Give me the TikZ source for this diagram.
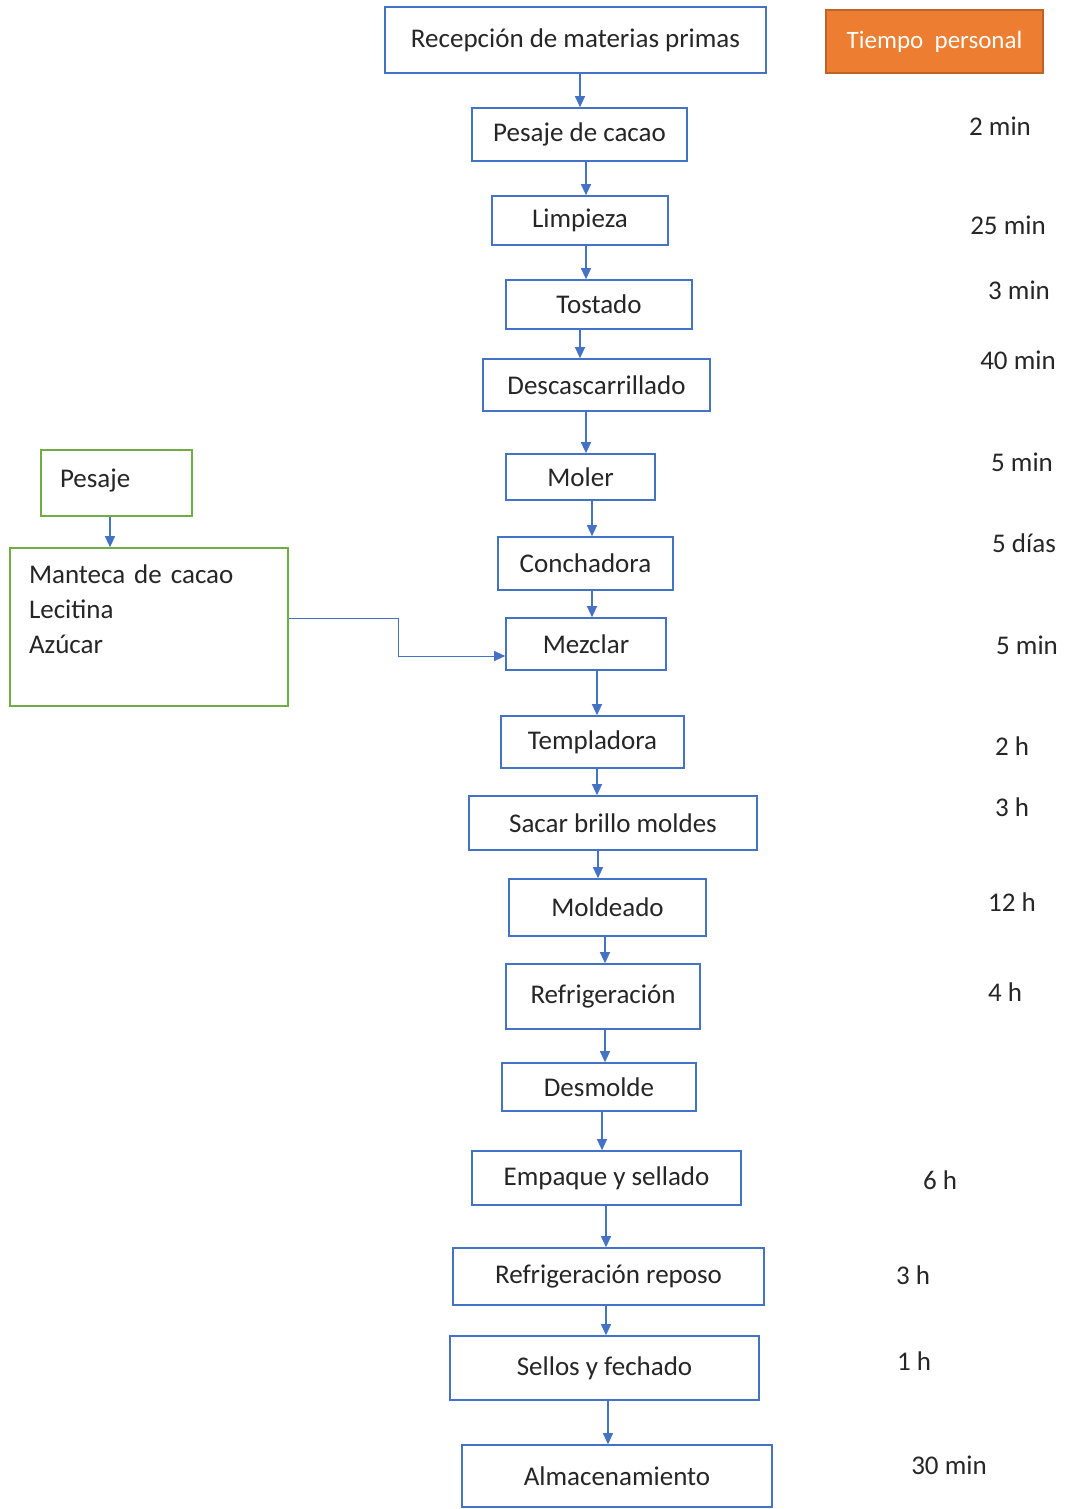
\documentclass[tikz,border=0pt]{standalone}
\usepackage{fontspec}
\setmainfont{Carlito}
\usetikzlibrary{positioning}
\usetikzlibrary{arrows.meta}
\definecolor{flowblue}{RGB}{68,114,196}
\definecolor{flowgreen}{RGB}{112,173,71}
\definecolor{floworange}{RGB}{237,125,49}
\tikzset{stepbox/.style={draw=flowblue,line width=1.6pt,fill=white,inner sep=0pt,font=\fontsize{27}{35}\selectfont,text=black!85},
	sidebox/.style={stepbox,draw=flowgreen},
	timelabel/.style={font=\fontsize{27}{35}\selectfont,text=black!85,inner sep=0pt},
	flow arrow/.style={draw=flowblue,line width=1.1pt,-{Triangle[length=11pt,width=10pt]}},}
\begin{document}
\begin{tikzpicture}[x=1pt,y=-1pt]
		\useasboundingbox (0,0) rectangle (1065,1509);
		% main line
		\node[stepbox, minimum width=381, minimum height=66] (recep) at (575.5,40) {Recepción de materias primas};
		\node[stepbox, minimum width=215, minimum height=53] (pesajec) at (579.5,134.5) {Pesaje de cacao};
		\node[stepbox, minimum width=176, minimum height=49] (limp) at (580,220.5) {Limpieza};
		\node[stepbox, minimum width=186, minimum height=49] (tost) at (599,304.5) {Tostado};
		\node[stepbox, minimum width=227, minimum height=52] (desc) at (596.5,385) {Descascarrillado};
		\node[stepbox, minimum width=149, minimum height=46] (moler) at (580.5,477) {Moler};
		\node[stepbox, minimum width=175, minimum height=53] (conch) at (585.5,563.5) {Conchadora};
		\node[stepbox, minimum width=160, minimum height=52] (mezc) at (586,644) {Mezclar};
		\node[stepbox, minimum width=183, minimum height=52] (templ) at (592.5,742) {Templadora};
		\node[stepbox, minimum width=288, minimum height=54] (brillo) at (613,823) {Sacar brillo moldes};
		\node[stepbox, minimum width=197, minimum height=57] (mold) at (607.5,907.5) {Moldeado};
		\node[stepbox, minimum width=194, minimum height=65] (refri) at (603,996.5) {Refrigeración};
		\node[stepbox, minimum width=194, minimum height=48] (desm) at (599,1087) {Desmolde};
		\node[stepbox, minimum width=269, minimum height=54] (empq) at (606.5,1178) {Empaque y sellado};
		\node[stepbox, minimum width=311, minimum height=57] (repos) at (608.5,1276.5) {Refrigeración reposo};
		\node[stepbox, minimum width=309, minimum height=64] (sellos) at (604.5,1368) {Sellos y fechado};
		\node[stepbox, minimum width=310, minimum height=62] (almac) at (617,1476) {Almacenamiento};

		% side inputs
		\node[sidebox, minimum width=151, minimum height=66, text width=113, align=left] (pesaje) at (116.5,483) {Pesaje\\[-25pt]\mbox{}};
		\node[sidebox, minimum width=278, minimum height=158, text width=240, align=left] (mant) at (149,627) {Manteca de cacao\\Lecitina\\Azúcar\\\mbox{}};

		% times
		\node[stepbox, draw=floworange!80!black, fill=floworange, text=white, font=\fontsize{25}{30}\selectfont, minimum width=217, minimum height=63] (tiempo) at (934.5,41.5) {Tiempo\ \ personal};
		\node[timelabel] (t1) at (1000,126) {2 min};
		\node[timelabel] (t2) at (1008,225) {25 min};
		\node[timelabel] (t3) at (1019,290) {3 min};
		\node[timelabel] (t4) at (1018,360) {40 min};
		\node[timelabel] (t5) at (1022,462) {5 min};
		\node[timelabel] (t6) at (1024,543) {5 días};
		\node[timelabel] (t7) at (1027,645) {5 min};
		\node[timelabel] (t8) at (1012,746) {2 h};
		\node[timelabel] (t9) at (1012,807) {3 h};
		\node[timelabel] (t10) at (1012,902) {12 h};
		\node[timelabel] (t11) at (1005,992) {4 h};
		\node[timelabel] (t12) at (940,1180) {6 h};
		\node[timelabel] (t13) at (913,1275) {3 h};
		\node[timelabel] (t14) at (914,1361) {1 h};
		\node[timelabel] (t15) at (949,1465) {30 min};

		% arrows
		\draw[flow arrow] (recep.south -| 580,0) -- (pesajec.north -| 580,0);
		\draw[flow arrow] (pesajec.south -| 586,0) -- (limp.north -| 586,0);
		\draw[flow arrow] (limp.south -| 586,0) -- (tost.north -| 586,0);
		\draw[flow arrow] (tost.south -| 580,0) -- (desc.north -| 580,0);
		\draw[flow arrow] (desc.south -| 586,0) -- (moler.north -| 586,0);
		\draw[flow arrow] (moler.south -| 592,0) -- (conch.north -| 592,0);
		\draw[flow arrow] (conch.south -| 592,0) -- (mezc.north -| 592,0);
		\draw[flow arrow] (mezc.south -| 597,0) -- (templ.north -| 597,0);
		\draw[flow arrow] (templ.south -| 597,0) -- (brillo.north -| 597,0);
		\draw[flow arrow] (brillo.south -| 598,0) -- (mold.north -| 598,0);
		\draw[flow arrow] (mold.south -| 605,0) -- (refri.north -| 605,0);
		\draw[flow arrow] (refri.south -| 605,0) -- (desm.north -| 605,0);
		\draw[flow arrow] (desm.south -| 602,0) -- (empq.north -| 602,0);
		\draw[flow arrow] (empq.south -| 606,0) -- (repos.north -| 606,0);
		\draw[flow arrow] (repos.south -| 606,0) -- (sellos.north -| 606,0);
		\draw[flow arrow] (sellos.south -| 608,0) -- (almac.north -| 608,0);
		\draw[flow arrow] (pesaje.south -| 110,0) -- (mant.north -| 110,0);
		\draw[flow arrow, line width=0.9pt] ([yshift=9pt]mant.east) -- ++(110,0) |- ([yshift=-12pt]mezc.west);
	\end{tikzpicture}
\end{document}
